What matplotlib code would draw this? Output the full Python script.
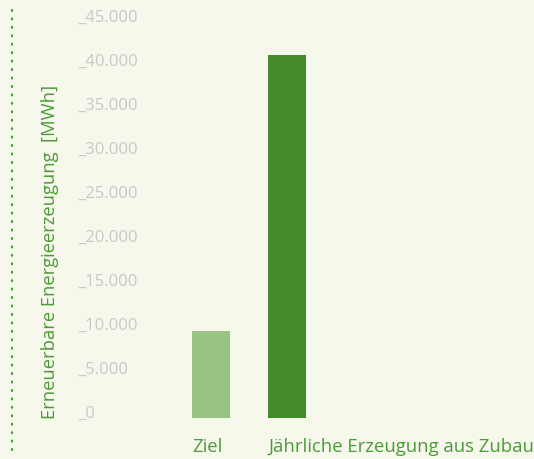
import matplotlib.pyplot as plt
from matplotlib.lines import Line2D
import matplotlib.transforms as mtransforms

# Daten
kategorien = ["Ziel", "Jährliche Erzeugung aus Zubau"]
werte = [9900, 41250]
farben = ["#9ac284", "#438a29"]
ticks = [0, 5000, 10000, 15000, 20000, 25000, 30000, 35000, 40000, 45000]
tick_labels = ["0", "5.000", "10.000", "15.000", "20.000", "25.000",
               "30.000", "35.000", "40.000", "45.000"]

bg = "#f6f8ec"
gruen_text = "#4d9a38"
grau = "#c9c9c5"
schrift = "Open Sans"

W, H = 534, 459
fig = plt.figure(figsize=(W / 100, H / 100), dpi=100, facecolor=bg)

# Achse in Pixelkoordinaten platzieren
ax_left, ax_right = 150, 534
ax_top, ax_bottom = 22, 418
ax = fig.add_axes([ax_left / W, 1 - ax_bottom / H,
                   (ax_right - ax_left) / W, (ax_bottom - ax_top) / H])
ax.set_facecolor(bg)

x = list(range(len(kategorien)))
ax.bar(x, werte, width=0.5, color=farben)
ax.set_xlim(-0.803, 4.25)
ax.set_ylim(0, 45000)
for s in ax.spines.values():
    s.set_visible(False)
ax.set_xticks([])
ax.set_yticks([])

# Y-Beschriftungen links, mit Unterstrich als Markierung
trans = mtransforms.blended_transform_factory(fig.transFigure, ax.transData)
for t, lab in zip(ticks, tick_labels):
    fig.text(78 / W, t, "_" + lab, transform=trans, ha="left", va="baseline",
             fontsize=12, color=grau, family=schrift)

# Kategorien linksbündig unter den Balken
trans_x = mtransforms.blended_transform_factory(ax.transData, fig.transFigure)
for xi, k in zip(x, kategorien):
    fig.text(xi - 0.25, 1 - 452 / H, k, transform=trans_x, ha="left",
             va="baseline", fontsize=13.3, color=gruen_text, family=schrift)

# Achsentitel
fig.text(50 / W, 1 - 252 / H, "Erneuerbare Energieerzeugung  [MWh]",
         rotation=90, ha="center", va="center", fontsize=13.2,
         color=gruen_text, family=schrift)

# gepunktete Linie am linken Rand
fig.add_artist(Line2D([12 / W, 12 / W], [1 - 10 / H, 1 - 452 / H],
                      transform=fig.transFigure, color="#4d9a38", lw=1.6,
                      linestyle=(0, (0.4, 3.4)), dash_capstyle="round"))

fig.savefig("out.png", dpi=100, facecolor=bg)
